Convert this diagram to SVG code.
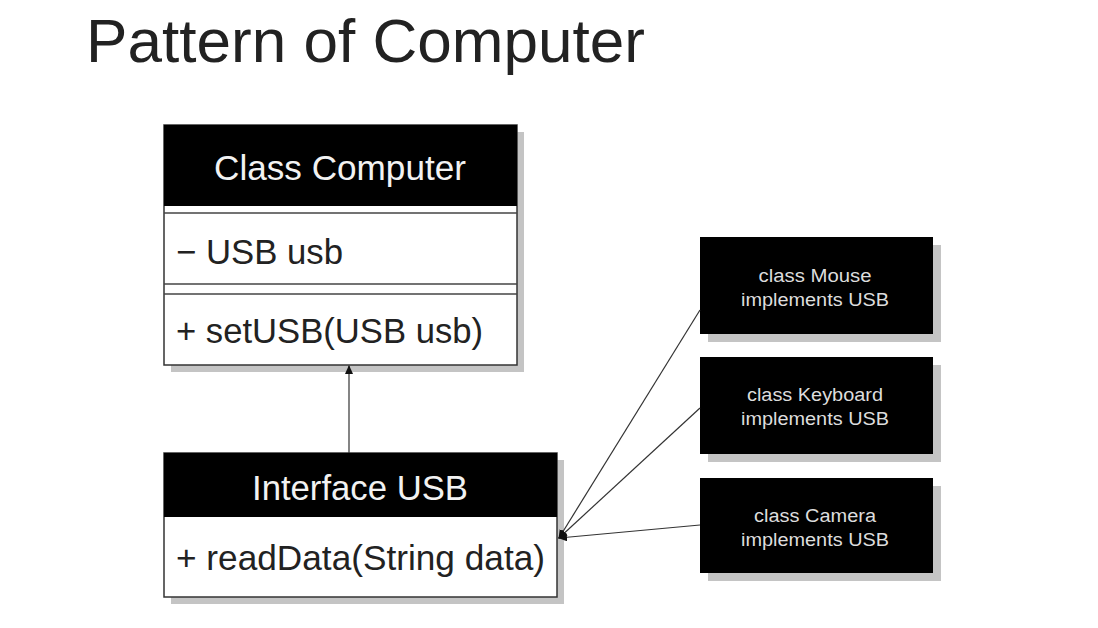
<svg xmlns="http://www.w3.org/2000/svg" width="1098" height="628" viewBox="0 0 1098 628">
<style>
.shadow{fill:#c4c4c4}
.box{fill:#fff;stroke:#333;stroke-width:1.5}
.hdr{fill:#000}
.sep{stroke:#444;stroke-width:1.5}
.t{font-family:"Liberation Sans",Arial,sans-serif;fill:#222}
.th{font-family:"Liberation Sans",Arial,sans-serif;fill:#f2f2f2}
.ts{font-family:"Liberation Sans",Arial,sans-serif;fill:#ddd;font-size:18px;text-anchor:middle}
.conn{stroke:#333;stroke-width:1.2;fill:none}
</style>
<defs>
<marker id="ah" markerWidth="10" markerHeight="10" refX="8" refY="4" orient="auto" markerUnits="userSpaceOnUse">
<path d="M0,0 L9,4 L0,8 Z" fill="#111"/>
</marker>
</defs>
<rect width="1098" height="628" fill="#fff"/>
<text x="86" y="62" class="t" font-size="62" fill="#111" textLength="559" lengthAdjust="spacingAndGlyphs">Pattern of Computer</text>

<g id="computer">
<rect class="shadow" x="171" y="132" width="353" height="240"/>
<rect class="box" x="164" y="125" width="353" height="240"/>
<rect class="hdr" x="164" y="125" width="353" height="81"/>
<line class="sep" x1="164" y1="213" x2="517" y2="213"/>
<line class="sep" x1="164" y1="284" x2="517" y2="284"/>
<line class="sep" x1="164" y1="294" x2="517" y2="294"/>
<text x="340" y="180" class="th" font-size="35" text-anchor="middle" textLength="252" lengthAdjust="spacingAndGlyphs">Class Computer</text>
<text x="176" y="264" class="t" font-size="35" textLength="167" lengthAdjust="spacingAndGlyphs">− USB usb</text>
<text x="176" y="343" class="t" font-size="35" textLength="307" lengthAdjust="spacingAndGlyphs">+ setUSB(USB usb)</text>
</g>

<g id="usb">
<rect class="shadow" x="171" y="460" width="393" height="144"/>
<rect class="box" x="164" y="453" width="393" height="144"/>
<rect class="hdr" x="164" y="453" width="393" height="64"/>
<text x="360" y="500" class="th" font-size="35" text-anchor="middle" textLength="216" lengthAdjust="spacingAndGlyphs">Interface USB</text>
<text x="176" y="570" class="t" font-size="35" textLength="369" lengthAdjust="spacingAndGlyphs">+ readData(String data)</text>
</g>

<g id="mouse">
<rect class="shadow" x="708" y="245" width="233" height="97"/>
<rect class="hdr" x="700" y="237" width="233" height="97"/>
<text x="815" y="282" class="ts" textLength="113" lengthAdjust="spacingAndGlyphs">class Mouse</text>
<text x="815" y="306" class="ts" textLength="148" lengthAdjust="spacingAndGlyphs">implements USB</text>
</g>

<g id="keyboard">
<rect class="shadow" x="708" y="365" width="233" height="97"/>
<rect class="hdr" x="700" y="357" width="233" height="97"/>
<text x="815" y="401" class="ts" textLength="136" lengthAdjust="spacingAndGlyphs">class Keyboard</text>
<text x="815" y="425" class="ts" textLength="148" lengthAdjust="spacingAndGlyphs">implements USB</text>
</g>

<g id="camera">
<rect class="shadow" x="708" y="486" width="233" height="95"/>
<rect class="hdr" x="700" y="478" width="233" height="95"/>
<text x="815" y="522" class="ts" textLength="122" lengthAdjust="spacingAndGlyphs">class Camera</text>
<text x="815" y="546" class="ts" textLength="148" lengthAdjust="spacingAndGlyphs">implements USB</text>
</g>

<g id="connectors">
<line class="conn" x1="349" y1="453" x2="349" y2="366" marker-end="url(#ah)"/>
<line class="conn" x1="700" y1="310" x2="559" y2="538" marker-end="url(#ah)"/>
<line class="conn" x1="700" y1="408" x2="559" y2="538" marker-end="url(#ah)"/>
<line class="conn" x1="700" y1="525" x2="559" y2="538" marker-end="url(#ah)"/>
</g>
</svg>
